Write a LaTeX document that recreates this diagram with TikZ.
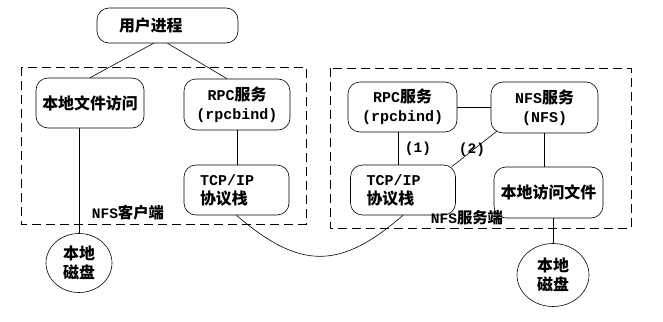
\documentclass[tikz,border=0pt]{standalone}
\usepackage{fontspec}
\setmainfont{Liberation Mono}
\newfontfamily\cjk{Noto Sans CJK SC}[Scale=1.06]
\usetikzlibrary{shapes.geometric}
\begin{document}
\begin{tikzpicture}[x=1pt,y=-1pt,line width=0.6pt,
  box/.style={draw,rounded corners=12pt,align=center,inner sep=0pt,
    font=\bfseries\fontsize{15}{19}\selectfont},
  stack/.style={box,align=left,text width=73pt,inner xsep=16pt,minimum height=50pt},
  disk/.style={draw,ellipse,inner sep=0pt,align=center,
    font=\bfseries\fontsize{15}{19}\selectfont},
  group/.style={draw,dash pattern=on 9pt off 5pt},
  lbl/.style={inner sep=1pt,font=\bfseries\fontsize{14.5}{16}\selectfont}]
\useasboundingbox (0,0) rectangle (663,321);
% dashed groups
\draw[group] (21,67) rectangle (306,224);
\draw[group] (330,68) rectangle (631,228);
% nodes
\node[box,align=left,text width=119pt,inner xsep=11pt,minimum height=35pt] (user) at (167.5,25.5) {\hspace*{11pt}\cjk 用户进程};
\node[box,minimum width=108pt,minimum height=50pt] (localL) at (90,103) {\cjk 本地文件访问};
\node[box,minimum width=106pt,minimum height=51pt] (rpcL) at (237,104.5) {RPC{\cjk 服务}\\(rpcbind)};
\node[stack] (tcpL) at (236.5,190) {TCP/IP\\{\cjk 协议栈}};
\node[disk,minimum width=66pt,minimum height=59pt] (diskL) at (79,263) {\cjk 本地\\\cjk 磁盘};
\node[box,minimum width=109pt,minimum height=50pt] (rpcR) at (402.5,107) {RPC{\cjk 服务}\\(rpcbind)};
\node[box,minimum width=107pt,minimum height=51pt] (nfsR) at (544.5,107.5) {NFS{\cjk 服务}\\(NFS)};
\node[stack] (tcpR) at (403,190) {TCP/IP\\{\cjk 协议栈}};
\node[box,minimum width=109pt,minimum height=51pt] (localR) at (548.5,192.5) {\cjk 本地访问文件};
\node[disk,minimum width=72pt,minimum height=63pt] (diskR) at (553,275) {\cjk 本地\\\cjk 磁盘};
% labels
\node[lbl] (cliLbl) at (128,213) {NFS{\cjk 客户端}};
\node[lbl] (srvLbl) at (467,218) {NFS{\cjk 服务端}};
\node[lbl] (l1) at (418,149) {(1)};
\node[lbl] (l2) at (472,150) {(2)};
% connectors
\draw ([xshift=-14pt]user.south) -- (localL.north);
\draw (user.south) -- ([xshift=-10pt]rpcL.north);
\draw (diskL.north |- localL.south) -- (diskL.north);
\draw (rpcL.south) -- (rpcL.south |- tcpL.north);
\draw (tcpL.south) .. controls (300,270) and (340,270) .. (tcpR.south);
\draw (rpcR.east) -- (rpcR.east -| nfsR.west);
\draw ([xshift=-4pt]rpcR.south) -- ([xshift=-4pt]rpcR.south |- tcpR.north);
\draw ([shift={(6,-2)}]nfsR.south west) -- ([shift={(-4,2)}]tcpR.north east);
\draw (nfsR.south) -- (nfsR.south |- localR.north);
\draw (diskR.north |- localR.south) -- (diskR.north);
\end{tikzpicture}
\end{document}
